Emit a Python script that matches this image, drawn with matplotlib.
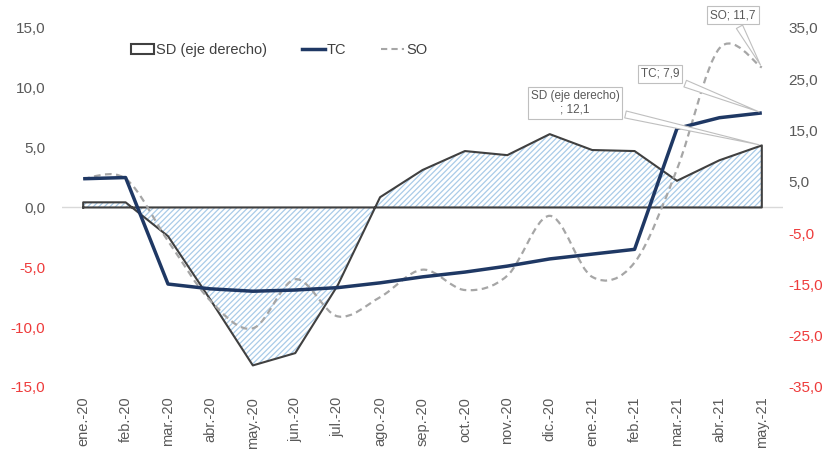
import numpy as np
import matplotlib
matplotlib.use('Agg')
import matplotlib.pyplot as plt
from matplotlib.path import Path
from matplotlib.patches import PathPatch, Patch
from matplotlib.lines import Line2D

plt.rcParams['font.family'] = 'Liberation Sans'
plt.rcParams['hatch.linewidth'] = 0.9

months = ['ene.-20', 'feb.-20', 'mar.-20', 'abr.-20', 'may.-20', 'jun.-20', 'jul.-20',
          'ago.-20', 'sep.-20', 'oct.-20', 'nov.-20', 'dic.-20', 'ene.-21', 'feb.-21',
          'mar.-21', 'abr.-21', 'may.-21']
sd = [1.0, 1.0, -5.6, -18.0, -30.8, -28.4, -15.2, 2.0, 7.3, 11.0, 10.2, 14.3, 11.2, 11.0, 5.2, 9.2, 12.1]
tc = [2.4, 2.5, -6.4, -6.8, -7.0, -6.9, -6.7, -6.3, -5.8, -5.4, -4.9, -4.3, -3.9, -3.5, 6.6, 7.5, 7.9]
so = [2.4, 2.4, -2.8, -7.8, -10.1, -6.0, -9.1, -7.5, -5.2, -6.9, -5.7, -0.7, -5.8, -4.6, 3.2, 13.3, 11.7]
left_ticks = [-15, -10, -5, 0, 5, 10, 15]
right_ticks = [-35, -25, -15, -5, 5, 15, 25, 35]

GREY = '#595959'
RED = '#ee3b3b'
NAVY = '#1f3864'


def fmt(v):
    return f'{v:.1f}'.replace('.', ',')


def smooth_path(xs, ys):
    # excel-like smoothed line as cubic bezier segments
    pts = np.column_stack([xs, ys]).astype(float)
    n = len(pts)
    verts = [pts[0]]
    codes = [Path.MOVETO]
    for i in range(n - 1):
        p0 = pts[max(i - 1, 0)]
        p1 = pts[i]
        p2 = pts[i + 1]
        p3 = pts[min(i + 2, n - 1)]
        verts += [p1 + (p2 - p0) / 6, p2 - (p3 - p1) / 6, p2]
        codes += [Path.CURVE4] * 3
    return Path(verts, codes)


fig = plt.figure(figsize=(8.33, 4.51), dpi=100)
ax = fig.add_axes([0.0744, 0.142, 0.8656, 0.796])
ax2 = ax.twinx()
ax.set_zorder(ax2.get_zorder() + 1)
ax.patch.set_visible(False)

x = np.arange(len(months))

# SD area on right axis
ax2.axhline(0, color='#d9d9d9', lw=1, zorder=0)
ax2.fill_between(x, sd, 0, facecolor='white', edgecolor='#a9cbe8', hatch='//////', linewidth=0)
ax2.plot(np.r_[x[0], x, x[-1], x[0]], np.r_[0, sd, 0, 0], color='#404040', lw=1.5)

# TC and SO on left axis
ax.plot(x, tc, color=NAVY, lw=2.5, solid_capstyle='butt')
ax.add_patch(PathPatch(smooth_path(x, so), fill=False, edgecolor='#a6a6a6', lw=1.6,
                       linestyle=(0, (3, 2))))

ax.set_xlim(-0.5, len(months) - 0.5)
ax.set_ylim(-15, 15)
ax2.set_ylim(-35, 35)

ax.set_yticks(left_ticks)
ax.set_yticklabels([fmt(v) for v in left_ticks])
ax2.set_yticks(right_ticks)
ax2.set_yticklabels([fmt(v) for v in right_ticks])
ax.tick_params(axis='y', length=0, pad=12, labelsize=11)
ax2.tick_params(axis='y', length=0, pad=4, labelsize=11)
for lbl, v in zip(ax.get_yticklabels(), left_ticks):
    lbl.set_color(RED if v < 0 else GREY)
for lbl, v in zip(ax2.get_yticklabels(), right_ticks):
    lbl.set_color(RED if v < 0 else GREY)

ax.set_xticks(x)
ax.set_xticklabels(months, rotation=90, fontsize=10.5, color=GREY)
ax.tick_params(axis='x', length=0, pad=7)

for a in (ax, ax2):
    for s in a.spines.values():
        s.set_visible(False)

handles = [Patch(facecolor='white', edgecolor='#404040', lw=1.5, label='SD (eje derecho)'),
           Line2D([], [], color=NAVY, lw=2.5, label='TC'),
           Line2D([], [], color='#a6a6a6', lw=1.5, ls=(0, (3, 2)), label='SO')]
fig.legend(handles=handles, loc='center', bbox_to_anchor=(0.335, 0.889), ncol=3,
           frameon=False, fontsize=10.5, handlelength=1.6, handletextpad=0.1,
           columnspacing=2.4, labelcolor='#404040')

box = dict(boxstyle='square,pad=0.25', fc='white', ec='#bfbfbf', lw=0.8)
arrow = dict(arrowstyle='wedge,tail_width=0.6,shrink_factor=0.5', fc='white', ec='#bfbfbf', lw=0.8)
ax.annotate(f'SO; {fmt(so[-1])}', xy=(x[-1], so[-1]), xytext=(733, 451 - 15),
            textcoords='figure pixels', ha='center', va='center', fontsize=8.5, color=GREY,
            bbox=box, arrowprops=arrow, zorder=10)
ax.annotate(f'TC; {fmt(tc[-1])}', xy=(x[-1], tc[-1]), xytext=(660, 451 - 74),
            textcoords='figure pixels', ha='center', va='center', fontsize=8.5, color=GREY,
            bbox=box, arrowprops=arrow, zorder=10)
ax.annotate(f'SD (eje derecho)\n; {fmt(sd[-1])}', xy=(x[-1], sd[-1]), xycoords=ax2.transData,
            xytext=(575, 451 - 103), textcoords='figure pixels', ha='center', va='center',
            multialignment='center', fontsize=8.5, color=GREY, bbox=box, arrowprops=arrow,
            zorder=10)

fig.savefig('out.png', dpi=100)
